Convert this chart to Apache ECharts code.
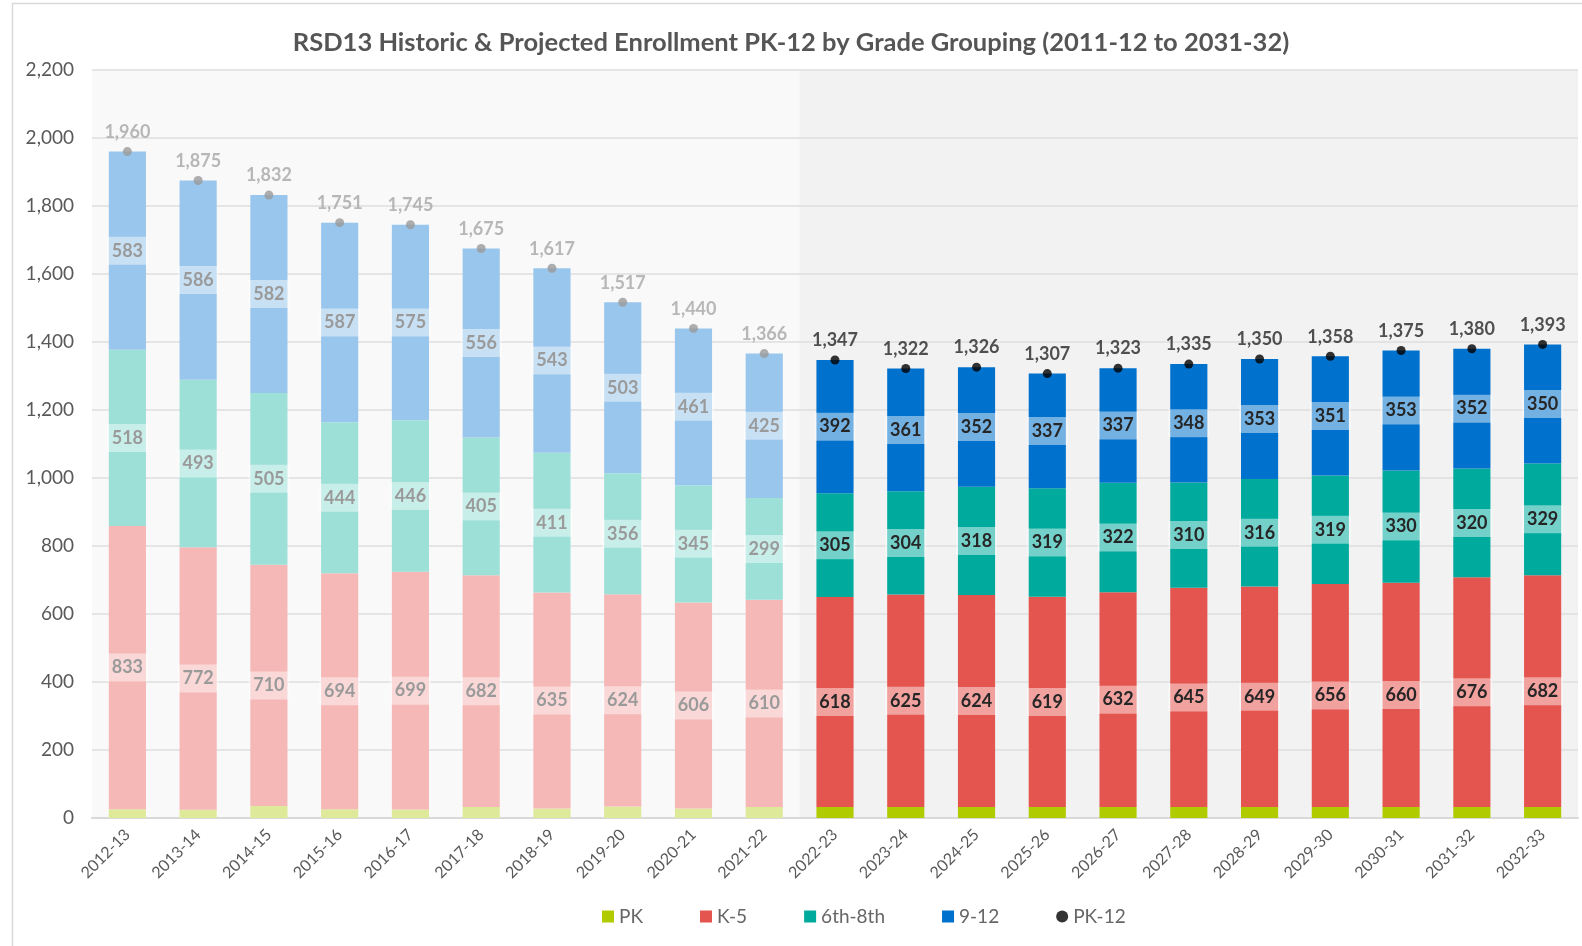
<!DOCTYPE html>
<html><head><meta charset="utf-8">
<script src="https://cdn.jsdelivr.net/npm/echarts@6/dist/echarts.min.js"></script>
<style>html,body{margin:0;padding:0;background:#fff}#c{width:1582px;height:946px}</style>
</head><body><div id="c"></div>
<script>
const categories = ['2012-13','2013-14','2014-15','2015-16','2016-17','2017-18','2018-19','2019-20','2020-21','2021-22','2022-23','2023-24','2024-25','2025-26','2026-27','2027-28','2028-29','2029-30','2030-31','2031-32','2032-33'];
const pk    = [26,24,35,26,25,32,28,34,28,32,32,32,32,32,32,32,32,32,32,32,32];
const k5    = [833,772,710,694,699,682,635,624,606,610,618,625,624,619,632,645,649,656,660,676,682];
const g68   = [518,493,505,444,446,405,411,356,345,299,305,304,318,319,322,310,316,319,330,320,329];
const g912  = [583,586,582,587,575,556,543,503,461,425,392,361,352,337,337,348,353,351,353,352,350];
const total = [1960,1875,1832,1751,1745,1675,1617,1517,1440,1366,1347,1322,1326,1307,1323,1335,1350,1358,1375,1380,1393];
const historicCount = 10;

(function () {
const FONT = 'Lato';
const chart = echarts.init(document.getElementById('c'));
const fmt = v => v.toLocaleString('en-US');

function barSeries(name, vals, dark, light, showLabel) {
  return {
    name, type: 'bar', stack: 'all', barWidth: '52.5%',
    itemStyle: { color: dark },
    data: vals.map((v, i) => {
      const hist = i < historicCount;
      return {
        value: v,
        itemStyle: { color: hist ? light : dark },
        label: { color: hist ? '#9a9a9a' : '#262626' }
      };
    }),
    label: {
      show: showLabel, position: 'inside', fontFamily: FONT, fontSize: 18, fontWeight: 'bold',
      backgroundColor: 'rgba(255,255,255,0.45)', padding: [5, 3], width: 35, align: 'center',
      formatter: p => fmt(p.value)
    },
    emphasis: { disabled: true }
  };
}

const option = {
  animation: false,
  textStyle: { fontFamily: FONT },
  title: {
    text: 'RSD13 Historic & Projected Enrollment PK-12 by Grade Grouping (2011-12 to 2031-32)',
    left: 'center', top: 25,
    textStyle: { fontFamily: FONT, fontSize: 25.5, fontWeight: 'bold', color: '#555555' }
  },
  legend: {
    top: 902, left: 597, itemGap: 57, itemWidth: 12, itemHeight: 12,
    textStyle: { fontFamily: FONT, fontSize: 19, color: '#666666' },
    data: [
      { name: 'PK', icon: 'rect' }, { name: 'K-5', icon: 'rect' }, { name: '6th-8th', icon: 'rect' },
      { name: '9-12', icon: 'rect' }, { name: 'PK-12', icon: 'circle', itemStyle: { color: '#000' } }
    ]
  },
  grid: { left: 92, right: 4, top: 70, bottom: 128 },
  xAxis: {
    type: 'category', data: categories,
    axisLine: { lineStyle: { color: '#d9d9d9', width: 2 } },
    axisTick: { show: false },
    axisLabel: { rotate: 45, color: '#595959', fontFamily: FONT, fontSize: 16, margin: 14 }
  },
  yAxis: {
    type: 'value', min: 0, max: 2200, interval: 200,
    axisLine: { show: false }, axisTick: { show: false },
    splitLine: { lineStyle: { color: '#dedede', width: 1.5 } },
    axisLabel: { color: '#595959', fontFamily: FONT, fontSize: 19, margin: 18, formatter: v => fmt(v) }
  },
  series: [
    barSeries('PK', pk, '#b0cb00', '#dfe99a', false),
    barSeries('K-5', k5, '#e5554f', '#f5b8b6', true),
    barSeries('6th-8th', g68, '#00ab9e', '#9ce0d8', true),
    barSeries('9-12', g912, '#0071cc', '#99c6ec', true),
    {
      name: 'PK-12', type: 'scatter', symbolSize: 9, z: 5,
      itemStyle: { color: '#000' },
      data: total.map((v, i) => {
        const hist = i < historicCount;
        return { value: v, itemStyle: { color: hist ? '#9a9a9a' : '#000' }, label: { color: hist ? '#a6a6a6' : '#262626' } };
      }),
      label: { show: true, position: 'top', distance: 6, fontFamily: FONT, fontSize: 18, fontWeight: 'bold', formatter: p => fmt(p.value) },
      emphasis: { disabled: true }
    }
  ]
};
chart.setOption(option);

const c0 = chart.convertToPixel({ xAxisIndex: 0 }, categories[0]);
const c1 = chart.convertToPixel({ xAxisIndex: 0 }, categories[1]);
const band = c1 - c0;
const xSplit = chart.convertToPixel({ xAxisIndex: 0 }, categories[historicCount]) - band / 2;
const xLeft = c0 - band / 2;
const xRight = chart.convertToPixel({ xAxisIndex: 0 }, categories[categories.length - 1]) + band / 2;
const yTop = chart.convertToPixel({ yAxisIndex: 0 }, 2200);
const yBottom = chart.convertToPixel({ yAxisIndex: 0 }, 0);
chart.setOption({
  graphic: [
    { type: 'rect', z: -100, silent: true, shape: { x: 12.5, y: 3.5, width: 1700, height: 1100 }, style: { fill: '#fff', stroke: '#d9d9d9', lineWidth: 1.5 } },
    { type: 'rect', z: -90, silent: true, shape: { x: xLeft, y: yTop, width: xSplit - xLeft, height: yBottom - yTop }, style: { fill: '#f9f9f9' } },
    { type: 'rect', z: -90, silent: true, shape: { x: xSplit, y: yTop, width: xRight - xSplit, height: yBottom - yTop }, style: { fill: '#f2f2f2' } }
  ]
});
})();
</script></body></html>
